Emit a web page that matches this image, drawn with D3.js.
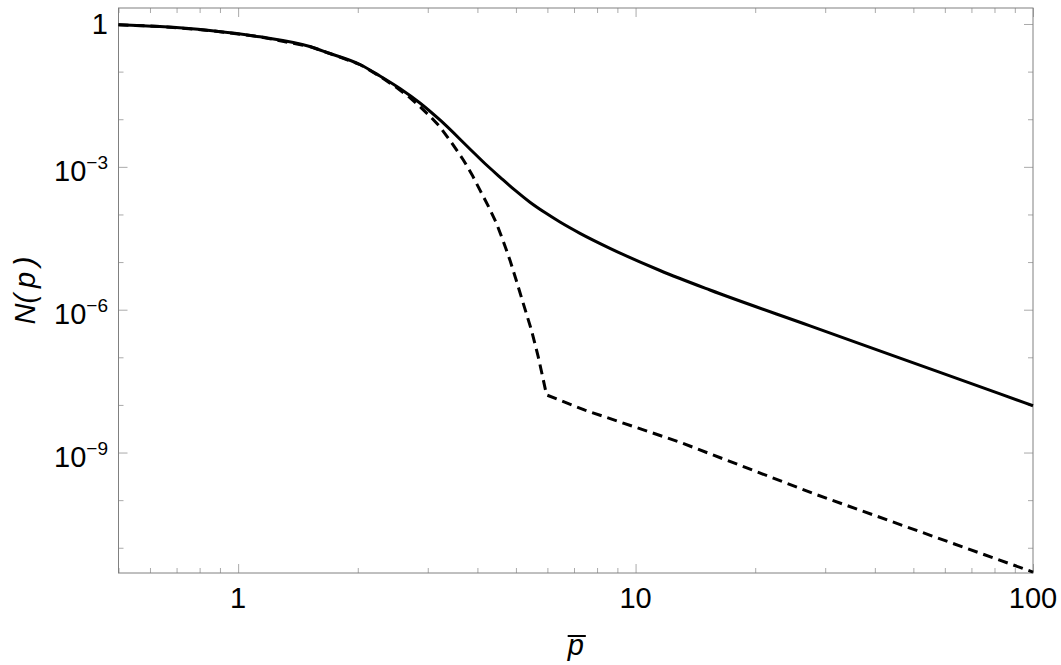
<!DOCTYPE html>
<html>
<head>
<meta charset="utf-8">
<script src="https://cdnjs.cloudflare.com/ajax/libs/d3/7.8.5/d3.min.js"></script>
<style>
  body { margin: 0; background: #fff; }
  text { font-family: "Liberation Sans", Arial, sans-serif; fill: #000; }
</style>
</head>
<body>
<svg id="chart"></svg>
<script>
// values: p and log10 N(p)
const solidP     = [0.5, 0.635, 0.849, 1.134, 1.515, 1.702, 2.025, 2.274, 2.553, 2.867, 3.219, 3.83, 4.177, 4.557, 4.971, 5.423, 5.916, 6.453, 7.247, 8.621, 11.52, 15.39, 27.48, 46.29, 82.63, 100];
const solidLogN  = [-0.015, -0.053, -0.137, -0.269, -0.473, -0.62, -0.851, -1.092, -1.355, -1.659, -2.016, -2.625, -2.93, -3.214, -3.491, -3.743, -3.961, -4.159, -4.396, -4.711, -5.177, -5.587, -6.339, -7.016, -7.768, -8.017];

const dashedP    = [0.5, 0.635, 0.849, 1.134, 1.515, 1.702, 2.025, 2.274, 2.5, 2.7, 2.87, 3.05, 3.22, 3.45, 3.69, 3.88, 4.06, 4.27, 4.47, 4.65, 4.83, 5.0, 5.17, 5.32, 5.47, 5.58, 5.69, 5.83, 5.97, 7.46, 12.9, 28, 100];
const dashedLogN = [-0.015, -0.053, -0.137, -0.269, -0.473, -0.62, -0.851, -1.1, -1.33, -1.54, -1.74, -1.95, -2.16, -2.5, -2.86, -3.17, -3.49, -3.84, -4.19, -4.57, -4.96, -5.36, -5.76, -6.1, -6.43, -6.71, -6.99, -7.39, -7.79, -8.11, -8.78, -9.86, -11.51];

const xMajor = [1, 10, 100];
const xMinor = [0.5, 0.6, 0.7, 0.8, 0.9, 2, 3, 4, 5, 6, 7, 8, 9, 20, 30, 40, 50, 60, 70, 80, 90];
const yMajorExp = [0, -3, -6, -9];
const yMinorExp = [-1, -2, -4, -5, -7, -8, -10, -11];

const width = 1061;
const height = 665;
const margin = { top: 8, right: 28, bottom: 92, left: 118.5 };

const svg = d3.select("#chart")
    .attr("width", width)
    .attr("height", height);

const x = d3.scaleLog()
    .domain([0.5, 100])
    .range([margin.left, width - margin.right]);

const y = d3.scaleLog()
    .domain([Math.pow(10, 0.336), Math.pow(10, -11.53)])
    .range([margin.top, height - margin.bottom]);

const x0 = margin.left, x1 = width - margin.right;
const y0 = margin.top, y1 = height - margin.bottom;

// ticks (inside the frame, on all four sides)
function tickAxes(vals, size) {
    const g = svg.append("g").attr("class", "ticks");
    g.append("g").attr("transform", `translate(0,${y1})`)
        .call(d3.axisBottom(x).tickValues(vals.x).tickSize(-size).tickFormat(""));
    g.append("g").attr("transform", `translate(0,${y0})`)
        .call(d3.axisTop(x).tickValues(vals.x).tickSize(-size).tickFormat(""));
    g.append("g").attr("transform", `translate(${x0},0)`)
        .call(d3.axisLeft(y).tickValues(vals.y).tickSize(-size).tickFormat(""));
    g.append("g").attr("transform", `translate(${x1},0)`)
        .call(d3.axisRight(y).tickValues(vals.y).tickSize(-size).tickFormat(""));
    g.selectAll(".domain").remove();
    g.selectAll("line").attr("stroke", "#aaa").attr("stroke-width", 1);
}
tickAxes({ x: xMajor, y: yMajorExp.map(e => Math.pow(10, e)) }, 9);
tickAxes({ x: xMinor, y: yMinorExp.map(e => Math.pow(10, e)) }, 5);

// frame
svg.append("rect")
    .attr("x", x0).attr("y", y0)
    .attr("width", x1 - x0).attr("height", y1 - y0)
    .attr("fill", "none")
    .attr("stroke", "#808080")
    .attr("stroke-width", 1);

// lines
const line = d3.line()
    .x(d => x(d[0]))
    .y(d => y(Math.pow(10, d[1])));

svg.append("path")
    .datum(solidP.map((p, i) => [p, solidLogN[i]]))
    .attr("fill", "none")
    .attr("stroke", "#000")
    .attr("stroke-width", 3)
    .attr("d", line.curve(d3.curveMonotoneX));

svg.append("path")
    .datum(dashedP.map((p, i) => [p, dashedLogN[i]]))
    .attr("fill", "none")
    .attr("stroke", "#000")
    .attr("stroke-width", 3)
    .attr("stroke-dasharray", "10,6")
    .attr("d", line.curve(d3.curveLinear));

// x tick labels
svg.selectAll(".xlab")
    .data(xMajor)
    .enter().append("text")
    .attr("x", d => x(d))
    .attr("y", y1 + 35)
    .attr("text-anchor", "middle")
    .attr("font-size", 29)
    .text(d => d);

// y tick labels
yMajorExp.forEach(e => {
    const t = svg.append("text")
        .attr("x", x0 - 10.5)
        .attr("text-anchor", "end")
        .attr("font-size", 29);
    if (e === 0) {
        t.attr("y", y(1) + 10).text("1");
    } else {
        t.attr("y", y(Math.pow(10, e)) + 14);
        t.append("tspan").text("10");
        t.append("tspan").attr("font-size", 19).attr("dy", -12).text("\u2212" + (-e));
    }
});

// axis titles
const cy = (y0 + y1) / 2;
svg.append("text")
    .attr("transform", `translate(35,${cy}) rotate(-90)`)
    .attr("text-anchor", "middle")
    .attr("font-size", 29)
    .attr("font-style", "italic")
    .text("N(\u2009p\u2009)");

const xt = svg.append("text")
    .attr("x", (x0 + x1) / 2)
    .attr("y", 655)
    .attr("text-anchor", "middle")
    .attr("font-size", 29)
    .attr("font-style", "italic")
    .text("p");
const bb = xt.node().getBBox();
svg.append("line")
    .attr("x1", bb.x + 1).attr("x2", bb.x + bb.width + 2)
    .attr("y1", 636).attr("y2", 636)
    .attr("stroke", "#000")
    .attr("stroke-width", 2);
</script>
</body>
</html>
